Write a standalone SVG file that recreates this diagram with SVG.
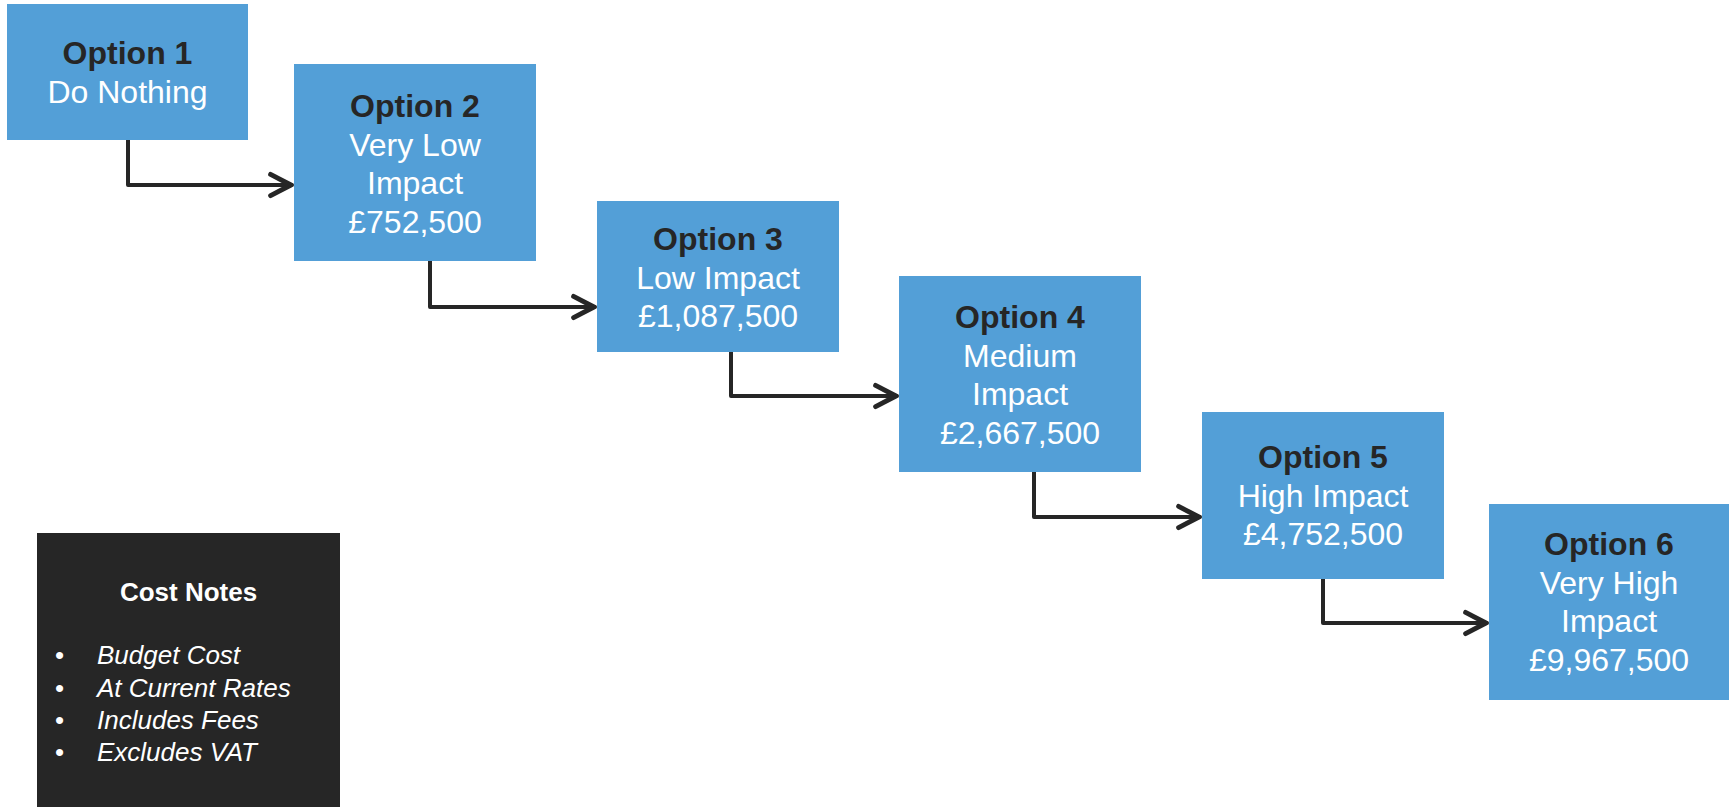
<svg xmlns="http://www.w3.org/2000/svg" width="1729" height="807" viewBox="0 0 1729 807">
  <defs>
    <style>
      .box { fill: #539FD7; }
      .t { font-family: "Liberation Sans", Arial, sans-serif; font-size: 32px; text-anchor: middle; }
      .hd { font-weight: bold; fill: #262626; }
      .bd { fill: #FFFFFF; }
      .conn { fill: none; stroke: #262626; stroke-width: 4; stroke-linejoin: round; stroke-linecap: round; }
      .notes { fill: #262626; }
      .nt { font-family: "Liberation Sans", Arial, sans-serif; font-size: 26px; fill: #FFFFFF; }
    </style>
    <marker id="arrow" markerUnits="userSpaceOnUse" markerWidth="30" markerHeight="30" viewBox="-24 -14 28 28" refX="1" refY="0" orient="auto">
      <path d="M-19,-10 L0,0 L-19,10" fill="none" stroke="#262626" stroke-width="4.5" stroke-linecap="round" stroke-linejoin="round"/>
    </marker>
  </defs>
  <rect width="1729" height="807" fill="#FFFFFF"/>

  <g id="connectors">
    <path class="conn" d="M128,140 V185 H292" marker-end="url(#arrow)"/>
    <path class="conn" d="M430,261 V307 H595" marker-end="url(#arrow)"/>
    <path class="conn" d="M731,352 V396 H897" marker-end="url(#arrow)"/>
    <path class="conn" d="M1034,472 V517 H1200" marker-end="url(#arrow)"/>
    <path class="conn" d="M1323,579 V623 H1487" marker-end="url(#arrow)"/>
  </g>

  <g id="option1">
    <rect class="box" x="7" y="4" width="241" height="136"/>
    <text class="t hd" x="127.5" y="64">Option 1</text>
    <text class="t bd" x="127.5" y="102.5">Do Nothing</text>
  </g>

  <g id="option2">
    <rect class="box" x="294" y="64" width="242" height="197"/>
    <text class="t hd" x="415" y="117">Option 2</text>
    <text class="t bd" x="415" y="155.5">Very Low</text>
    <text class="t bd" x="415" y="194">Impact</text>
    <text class="t bd" x="415" y="232.5">£752,500</text>
  </g>

  <g id="option3">
    <rect class="box" x="597" y="201" width="242" height="151"/>
    <text class="t hd" x="718" y="250">Option 3</text>
    <text class="t bd" x="718" y="288.5">Low Impact</text>
    <text class="t bd" x="718" y="327">£1,087,500</text>
  </g>

  <g id="option4">
    <rect class="box" x="899" y="276" width="242" height="196"/>
    <text class="t hd" x="1020" y="328">Option 4</text>
    <text class="t bd" x="1020" y="366.5">Medium</text>
    <text class="t bd" x="1020" y="405">Impact</text>
    <text class="t bd" x="1020" y="443.5">£2,667,500</text>
  </g>

  <g id="option5">
    <rect class="box" x="1202" y="412" width="242" height="167"/>
    <text class="t hd" x="1323" y="468">Option 5</text>
    <text class="t bd" x="1323" y="506.5">High Impact</text>
    <text class="t bd" x="1323" y="545">£4,752,500</text>
  </g>

  <g id="option6">
    <rect class="box" x="1489" y="504" width="241" height="196"/>
    <text class="t hd" x="1609" y="555">Option 6</text>
    <text class="t bd" x="1609" y="593.5">Very High</text>
    <text class="t bd" x="1609" y="632">Impact</text>
    <text class="t bd" x="1609" y="670.5">£9,967,500</text>
  </g>

  <g id="cost-notes">
    <rect class="notes" x="37" y="533" width="303" height="274"/>
    <text class="nt" x="188.5" y="601" text-anchor="middle" font-weight="bold">Cost Notes</text>
    <g font-style="italic">
      <text class="nt" x="55" y="664" font-style="normal">•</text>
      <text class="nt" x="97" y="664">Budget Cost</text>
      <text class="nt" x="55" y="696.5" font-style="normal">•</text>
      <text class="nt" x="97" y="696.5">At Current Rates</text>
      <text class="nt" x="55" y="729" font-style="normal">•</text>
      <text class="nt" x="97" y="729">Includes Fees</text>
      <text class="nt" x="55" y="761" font-style="normal">•</text>
      <text class="nt" x="97" y="761">Excludes VAT</text>
    </g>
  </g>
</svg>
